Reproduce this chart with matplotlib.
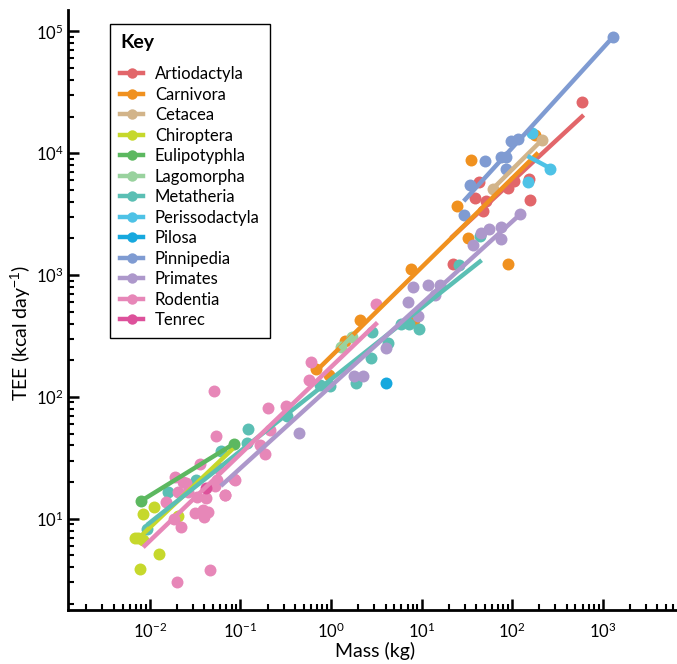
import matplotlib
matplotlib.use('Agg')
import matplotlib.pyplot as plt
from matplotlib.lines import Line2D

plt.rcParams['font.family'] = ['Lato', 'DejaVu Sans']
plt.rcParams['mathtext.fontset'] = 'custom'
plt.rcParams['mathtext.rm'] = 'Liberation Sans'
plt.rcParams['mathtext.it'] = 'Liberation Sans:italic'
plt.rcParams['mathtext.bf'] = 'Liberation Sans:bold'

###########################################
####   DATA   #############################
###########################################

groups = ['Artiodactyla', 'Carnivora', 'Cetacea', 'Chiroptera', 'Eulipotyphla',
          'Lagomorpha', 'Metatheria', 'Perissodactyla', 'Pilosa', 'Pinnipedia',
          'Primates', 'Rodentia', 'Tenrec']
colors = ['#E2666A', '#F0911F', '#D2B48A', '#C6D82C', '#5CB860', '#99D29E',
          '#5BBFB4', '#4EC2E6', '#16A8DE', '#7F9BD2', '#AD98CB', '#E787B8', '#DD519B']

# body mass (kg) and TEE (kcal/day) per group
artio_mass = [594, 153, 157, 105, 89, 43, 39, 51, 47.5, 22]
artio_tee = [26400, 6150, 4170, 5930, 5220, 5760, 4320, 4070, 3330, 1230]
carn_mass = [35, 24.8, 32.8, 91, 179, 7.7, 2.08, 1.44, 0.69, 0.944, 8.3]
carn_tee = [8800, 3670, 2030, 1240, 14000, 1127, 427, 287, 168, 151, 430]
cet_mass = [61, 212]
cet_tee = [5100, 12800]
chir_mass = [0.00684, 0.0085, 0.00836, 0.01127, 0.0127, 0.0077, 0.0205, 0.0075]
chir_tee = [6.98, 6.7, 10.9, 12.5, 5.18, 3.9, 10.5, 6.9]
eul_mass = [0.0079, 0.0857]
eul_tee = [13.9, 41.4]
lago_mass = [1.3, 1.7]
lago_tee = [256, 312]
meta_mass = [0.1216, 0.118, 0.0604, 0.0322, 0.016, 0.0094, 0.33, 1.88, 2.8, 2.83,
             4.3, 6.0, 7.3, 9.4, 26, 44, 0.75, 0.97]
meta_tee = [54.6, 42, 36.1, 20.6, 16.5, 8.25, 69.8, 131, 209, 340,
            277, 396, 400, 361, 1200, 2080, 125, 122]
periss_mass = [259, 150, 166]
periss_tee = [7460, 5830, 14600]
pilosa_mass = [4.06]
pilosa_tee = [131]
pinn_mass = [1310, 117, 98, 86.5, 76, 85, 50, 34.4, 29.6]
pinn_tee = [90700, 13100, 12500, 7410, 9300, 9300, 8600, 5500, 3090]
prim_mass = [123, 74.5, 76, 56, 45, 37, 8.1, 11.7, 15.8, 14, 7.0, 9.1, 4.1, 1.8, 2.25, 0.44]
prim_tee = [3160, 1970, 2500, 2380, 2210, 1770, 805, 825, 836, 692, 597, 459, 253, 148, 148, 50.7]
rod_mass = [0.051, 0.054, 0.0356, 0.2, 0.318, 0.185, 0.164, 0.085, 0.068, 0.0558,
            0.019, 0.0152, 0.0205, 0.025, 0.0186, 0.0222, 0.02, 0.0457, 0.6, 0.566,
            3.13, 0.0233, 0.0266, 0.0316, 0.039, 0.044, 0.04, 0.033, 0.042, 0.0676,
            0.052, 0.087, 0.057, 0.212]
rod_tee = [111, 48, 27.9, 81, 83.6, 34, 40, 21.1, 15.7, 20.6,
           22.2, 13.7, 16.5, 19.6, 10, 8.5, 3.0, 3.76, 194, 137,
           583, 20.2, 16.7, 11.1, 11.8, 11.4, 10.4, 15.1, 14.7, 15.7,
           18.4, 20.8, 26, 53.6]
tenrec_mass = [0.042]
tenrec_tee = [17.8]

# fitted regression lines (endpoints, mass / TEE)
artio_fit = ([22, 590], [2070, 20000])
carn_fit = ([0.68, 186], [162, 9800])
cet_fit = ([61, 212], [5100, 12800])
chir_fit = ([0.0075, 0.08], [6.9, 36.7])
eul_fit = ([0.0079, 0.0857], [13.9, 41.4])
lago_fit = ([1.3, 1.7], [256, 312])
meta_fit = ([0.0097, 44], [9.1, 1290])
periss_fit = ([155, 261], [9300, 7550])
pilosa_fit = None
pinn_fit = ([30.3, 1310], [4170, 90700])
prim_fit = ([0.0635, 123], [19.1, 3160])
rod_fit = ([0.0088, 3.13], [6.0, 396])
tenrec_fit = None

masses = [artio_mass, carn_mass, cet_mass, chir_mass, eul_mass, lago_mass, meta_mass,
          periss_mass, pilosa_mass, pinn_mass, prim_mass, rod_mass, tenrec_mass]
tees = [artio_tee, carn_tee, cet_tee, chir_tee, eul_tee, lago_tee, meta_tee,
        periss_tee, pilosa_tee, pinn_tee, prim_tee, rod_tee, tenrec_tee]
fits = [artio_fit, carn_fit, cet_fit, chir_fit, eul_fit, lago_fit, meta_fit,
        periss_fit, pilosa_fit, pinn_fit, prim_fit, rod_fit, tenrec_fit]

###########################################
####   PLOT   #############################
###########################################

fig = plt.figure(figsize=(6.77, 6.64), dpi=100)
ax = fig.add_axes([0.1004, 0.0813, 0.8996, 0.9037])

for g, c, m, t, f in zip(groups, colors, masses, tees, fits):
    ax.plot(m, t, 'o', color=c, ms=8.6, mec='none', zorder=2)
for g, c, f in zip(groups, colors, fits):
    if f is not None:
        ax.plot(f[0], f[1], '-', color=c, lw=3.2, zorder=3)

ax.set_xscale('log')
ax.set_yscale('log')
ax.set_xlim(0.00125, 6600)
ax.set_ylim(1.78, 150000)

for s in ['top', 'right']:
    ax.spines[s].set_visible(False)
for s in ['left', 'bottom']:
    ax.spines[s].set_linewidth(2)

ax.tick_params(which='major', direction='in', length=8, width=1.8, labelsize=12)
ax.tick_params(axis='x', which='major', pad=8)
ax.tick_params(axis='y', which='major', pad=3)
ax.tick_params(which='minor', direction='in', length=4, width=1.5)
ax.set_xticks([1e-2, 1e-1, 1, 10, 100, 1000])
ax.set_yticks([10, 100, 1000, 1e4, 1e5])

ax.set_xlabel('Mass (kg)', fontsize=14)
ax.set_ylabel('TEE (kcal day$^{-1}$)', fontsize=14)
ax.xaxis.set_label_coords(0.505, -0.054)
ax.yaxis.set_label_coords(-0.058, 0.462)

handles = [Line2D([0], [0], color=c, lw=3.2, marker='o', ms=7.5, mec='none') for c in colors]
leg = ax.legend(handles, groups, title='Key', loc='upper left',
                bbox_to_anchor=(110 / 677, 1 - 24 / 664), bbox_transform=fig.transFigure,
                borderaxespad=0,
                fontsize=12, title_fontproperties={'weight': 'bold', 'size': 14},
                frameon=True, fancybox=False, framealpha=1, edgecolor='black',
                handlelength=1.4, handletextpad=0.7, labelspacing=0.27,
                borderpad=0.6, numpoints=1)
leg.get_frame().set_linewidth(1)
leg._legend_box.align = 'left'
leg._legend_box.sep = 11

fig.savefig('out.png', dpi=100)
